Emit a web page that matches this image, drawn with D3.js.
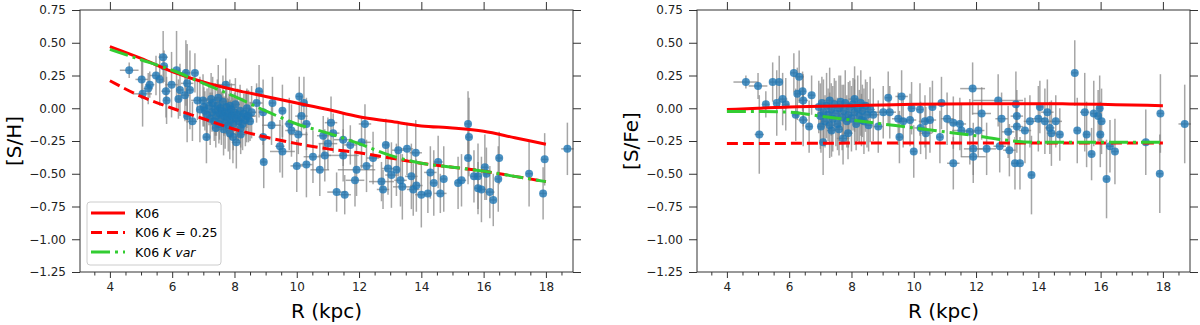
<!DOCTYPE html>
<html>
<head>
<meta charset="utf-8">
<script src="https://cdn.jsdelivr.net/npm/d3@7"></script>
<style>
  body { margin: 0; background: #fff; }
  svg { font-family: "DejaVu Sans", sans-serif; }
</style>
</head>
<body>
<div id="root"></div>
<script>
const w = 1200, h = 325;

// model curves (K06) sampled along R
const modelR = [4, 5, 6, 7, 8, 9, 10, 11, 12, 13, 14, 15, 16, 17, 18];
const k06SH   = [0.47, 0.38, 0.28, 0.20, 0.14, 0.09, 0.04, -0.01, -0.065, -0.10, -0.135, -0.15, -0.175, -0.225, -0.275];
const k025SH  = [0.21, 0.09, 0.00, -0.08, -0.16, -0.22, -0.27, -0.31, -0.34, -0.38, -0.42, -0.45, -0.48, -0.52, -0.56];
const kvarSH  = [0.45, 0.37, 0.29, 0.19, 0.09, -0.02, -0.12, -0.19, -0.27, -0.36, -0.42, -0.45, -0.48, -0.52, -0.56];
const k06SFe  = [-0.01, 0.0, 0.01, 0.015, 0.02, 0.025, 0.03, 0.033, 0.035, 0.035, 0.035, 0.033, 0.03, 0.025, 0.02];
const k025SFe = [-0.27, -0.27, -0.268, -0.267, -0.266, -0.265, -0.265, -0.265, -0.265, -0.265, -0.265, -0.265, -0.265, -0.265, -0.265];
const kvarSFe = [-0.025, -0.025, -0.03, -0.06, -0.09, -0.12, -0.15, -0.18, -0.21, -0.245, -0.26, -0.26, -0.26, -0.26, -0.26];

// stars: [R, value, errR, errValue]
const shPoints = [
  [4.62, 0.29, 0.3, 0.06], [5.02, 0.22, 0.2, 0.15], [5.28, 0.18, 0.15, 0.1], [5.23, 0.15, 0.15, 0.12],
  [5.05, 0.11, 0.3, 0.25], [5.71, 0.39, 0.15, 0.2], [5.74, 0.32, 0.1, 0.12], [5.48, 0.25, 0.2, 0.15],
  [5.6, 0.22, 0.1, 0.2], [5.8, 0.13, 0.15, 0.2], [5.82, 0.06, 0.1, 0.18], [5.98, 0.18, 0.2, 0.25],
  [6.14, 0.29, 0.1, 0.3], [6.44, 0.27, 0.15, 0.25], [6.73, 0.27, 0.1, 0.15], [6.48, 0.19, 0.2, 0.3],
  [6.25, 0.14, 0.1, 0.2], [6.2, 0.07, 0.1, 0.15], [6.41, 0.10, 0.15, 0.2], [6.57, 0.14, 0.1, 0.3],
  [6.81, 0.06, 0.2, 0.15], [6.48, -0.06, 0.1, 0.2], [6.65, -0.10, 0.15, 0.15], [6.89, -0.01, 0.1, 0.25],
  [7.1, -0.22, 0.1, 0.2], [7.02, 0.01, 0.1, 0.15], [6.99, 0.06, 0.15, 0.2], [7.72, 0.18, 0.3, 0.2],
  [7.48, 0.08, 0.15, 0.25], [7.85, -0.19, 0.2, 0.2], [8.06, -0.26, 0.15, 0.2], [8.39, -0.06, 0.3, 0.2],
  [8.79, 0.13, 0.1, 0.2], [8.71, 0.04, 0.2, 0.15], [8.92, -0.03, 0.15, 0.25], [9.22, 0.04, 0.1, 0.2],
  [9.19, -0.13, 0.3, 0.15], [9.46, -0.29, 0.15, 0.2], [9.54, -0.02, 0.1, 0.2], [9.54, -0.33, 0.4, 0.2],
  [9.76, -0.12, 0.15, 0.2], [9.83, -0.17, 0.2, 0.2], [10.08, 0.09, 0.1, 0.15], [10.15, -0.06, 0.2, 0.15],
  [10.23, 0.04, 0.1, 0.2], [10.31, -0.12, 0.15, 0.2], [10.05, -0.20, 0.3, 0.15], [10.0, -0.44, 0.2, 0.2],
  [10.31, -0.43, 0.2, 0.25], [10.52, -0.37, 0.3, 0.2], [10.74, -0.47, 0.3, 0.2], [10.9, -0.36, 0.2, 0.2],
  [8.94, -0.41, 0.1, 0.2], [8.92, -0.22, 0.15, 0.2], [7.95, -0.22, 0.15, 0.2], [8.2, -0.20, 0.2, 0.15],
  [7.05, -0.02, 0.1, 0.15], [7.12, -0.05, 0.15, 0.2], [7.18, 0.02, 0.1, 0.15], [7.22, -0.08, 0.2, 0.2],
  [7.28, -0.03, 0.1, 0.15], [7.3, 0.04, 0.15, 0.2], [7.35, -0.10, 0.1, 0.15], [7.38, -0.01, 0.2, 0.2],
  [7.42, -0.06, 0.1, 0.15], [7.45, 0.02, 0.15, 0.2], [7.5, -0.12, 0.1, 0.15], [7.52, -0.04, 0.2, 0.2],
  [7.55, 0.00, 0.1, 0.15], [7.58, -0.08, 0.15, 0.2], [7.6, -0.02, 0.1, 0.15], [7.63, 0.05, 0.2, 0.2],
  [7.66, -0.06, 0.1, 0.15], [7.7, -0.11, 0.15, 0.2], [7.72, -0.03, 0.1, 0.15], [7.75, 0.01, 0.2, 0.2],
  [7.78, -0.07, 0.1, 0.15], [7.8, -0.13, 0.15, 0.2], [7.82, -0.04, 0.1, 0.15], [7.85, 0.02, 0.2, 0.2],
  [7.88, -0.09, 0.1, 0.15], [7.9, -0.01, 0.15, 0.2], [7.93, -0.06, 0.1, 0.15], [7.96, -0.12, 0.2, 0.2],
  [8.0, -0.03, 0.1, 0.15], [8.03, 0.03, 0.15, 0.2], [8.06, -0.08, 0.1, 0.15], [8.1, -0.05, 0.2, 0.2],
  [8.14, -0.10, 0.1, 0.15], [8.18, -0.02, 0.15, 0.2], [8.22, -0.07, 0.1, 0.15], [8.26, -0.12, 0.2, 0.2],
  [8.3, -0.04, 0.1, 0.15], [8.35, -0.09, 0.15, 0.2], [8.4, 0.00, 0.1, 0.15], [8.45, -0.06, 0.2, 0.2],
  [8.5, -0.10, 0.1, 0.15], [8.55, -0.03, 0.15, 0.2], [7.4, -0.15, 0.1, 0.15], [7.65, -0.16, 0.15, 0.2],
  [8.2, -0.15, 0.1, 0.15], [7.25, 0.07, 0.2, 0.2],
  [10.85, -0.21, 0.2, 0.15], [11.0, -0.27, 0.3, 0.2], [11.1, -0.11, 0.2, 0.2],
  [11.17, -0.19, 0.2, 0.15], [11.49, -0.24, 0.3, 0.2], [11.49, -0.36, 0.5, 0.2], [11.72, -0.28, 0.2, 0.15],
  [12.08, -0.26, 0.3, 0.2], [12.19, -0.12, 0.2, 0.15], [11.28, -0.64, 0.3, 0.15], [11.54, -0.66, 0.2, 0.15],
  [11.87, -0.55, 0.3, 0.2], [11.92, -0.47, 0.6, 0.2], [12.24, -0.44, 0.2, 0.2], [12.45, -0.38, 0.2, 0.2],
  [12.72, -0.56, 0.4, 0.15], [12.77, -0.62, 0.2, 0.15], [12.86, -0.28, 0.1, 0.2], [12.93, -0.46, 0.2, 0.2],
  [13.04, -0.51, 0.2, 0.25], [13.2, -0.47, 0.1, 0.2], [13.26, -0.32, 0.2, 0.2], [13.33, -0.55, 0.2, 0.2],
  [13.39, -0.60, 0.3, 0.25], [13.54, -0.31, 0.2, 0.2], [13.68, -0.52, 0.2, 0.25], [13.74, -0.62, 0.2, 0.2],
  [13.82, -0.34, 0.2, 0.25], [13.84, -0.59, 0.2, 0.2], [14.0, -0.66, 0.2, 0.25], [14.21, -0.65, 0.1, 0.15],
  [14.29, -0.49, 0.2, 0.2], [14.4, -0.57, 0.1, 0.25], [14.54, -0.41, 0.15, 0.2], [14.61, -0.65, 0.2, 0.15],
  [14.72, -0.54, 0.1, 0.25], [15.18, -0.57, 0.1, 0.2], [15.29, -0.55, 0.15, 0.2], [15.5, -0.12, 0.1, 0.25],
  [15.53, -0.22, 0.1, 0.3], [15.5, -0.38, 0.1, 0.2], [15.69, -0.52, 0.1, 0.2], [15.82, -0.52, 0.1, 0.25],
  [15.82, -0.61, 0.1, 0.2], [15.93, -0.62, 0.15, 0.25], [16.04, -0.45, 0.1, 0.25], [16.09, -0.50, 0.1, 0.2],
  [16.2, -0.64, 0.15, 0.2], [16.31, -0.70, 0.1, 0.2], [16.47, -0.54, 0.1, 0.25], [16.5, -0.38, 0.1, 0.2],
  [17.46, -0.50, 0.1, 0.25], [17.96, -0.39, 0.1, 0.2], [17.91, -0.65, 0.1, 0.2], [18.69, -0.31, 0.2, 0.2]
];

const sfePoints = [
  [4.61, 0.20, 0.4, 0.05], [5.0, 0.17, 0.3, 0.1], [5.04, -0.20, 0.15, 0.3], [5.25, 0.03, 0.1, 0.1],
  [5.47, 0.20, 0.1, 0.15], [5.68, 0.20, 0.1, 0.2], [5.6, 0.04, 0.1, 0.25], [5.79, 0.07, 0.15, 0.2],
  [5.89, 0.03, 0.1, 0.2], [6.15, 0.27, 0.1, 0.15], [6.32, 0.24, 0.15, 0.2], [6.26, 0.11, 0.1, 0.2],
  [6.43, 0.13, 0.1, 0.15], [6.45, 0.06, 0.15, 0.2], [6.72, 0.10, 0.1, 0.15], [6.21, -0.05, 0.1, 0.2],
  [6.45, -0.09, 0.15, 0.2], [6.64, -0.14, 0.1, 0.2], [7.09, -0.26, 0.1, 0.25], [7.36, -0.17, 0.15, 0.2],
  [7.73, -0.23, 0.2, 0.2], [7.89, -0.19, 0.15, 0.2], [8.32, -0.09, 0.2, 0.2], [8.7, -0.05, 0.2, 0.2],
  [8.86, -0.14, 0.15, 0.2], [9.18, 0.08, 0.1, 0.2], [9.02, -0.03, 0.3, 0.2], [9.23, -0.03, 0.2, 0.2],
  [9.5, -0.08, 0.2, 0.2], [9.54, -0.22, 0.1, 0.2], [9.61, 0.09, 0.2, 0.2], [9.66, -0.10, 0.15, 0.2],
  [9.88, -0.09, 0.2, 0.2], [9.93, 0.00, 0.1, 0.2], [10.0, -0.33, 0.1, 0.2], [10.2, -0.01, 0.1, 0.2],
  [10.22, -0.15, 0.2, 0.2], [10.36, -0.10, 0.2, 0.2], [10.39, -0.19, 0.2, 0.2], [10.52, -0.09, 0.2, 0.25],
  [10.6, 0.01, 0.1, 0.2], [10.84, -0.22, 0.1, 0.2], [10.89, 0.04, 0.1, 0.2], [11.07, -0.08, 0.2, 0.2],
  [6.95, 0.01, 0.1, 0.2], [7.0, -0.06, 0.15, 0.25], [7.05, 0.04, 0.1, 0.2], [7.1, -0.03, 0.2, 0.25],
  [7.15, -0.10, 0.1, 0.2], [7.2, 0.02, 0.15, 0.25], [7.25, -0.05, 0.1, 0.2], [7.3, 0.06, 0.2, 0.25],
  [7.35, -0.01, 0.1, 0.2], [7.4, -0.08, 0.15, 0.25], [7.45, 0.03, 0.1, 0.2], [7.5, -0.04, 0.2, 0.25],
  [7.55, -0.12, 0.1, 0.2], [7.6, 0.00, 0.15, 0.25], [7.65, 0.05, 0.1, 0.2], [7.7, -0.07, 0.2, 0.25],
  [7.75, -0.02, 0.1, 0.2], [7.8, 0.04, 0.15, 0.25], [7.85, -0.10, 0.1, 0.2], [7.9, -0.05, 0.2, 0.25],
  [7.95, 0.01, 0.1, 0.2], [8.0, -0.08, 0.15, 0.25], [8.05, 0.03, 0.1, 0.2], [8.1, -0.03, 0.2, 0.25],
  [8.15, -0.12, 0.1, 0.2], [8.2, 0.00, 0.15, 0.25], [8.25, -0.06, 0.1, 0.2], [8.3, 0.04, 0.2, 0.25],
  [8.35, -0.02, 0.1, 0.2], [8.4, -0.10, 0.15, 0.25], [8.45, 0.02, 0.1, 0.2], [8.5, -0.05, 0.2, 0.25],
  [8.55, -0.13, 0.1, 0.2], [7.3, -0.13, 0.15, 0.25], [7.6, -0.16, 0.1, 0.2], [8.1, 0.07, 0.2, 0.25],
  [7.02, -0.14, 0.1, 0.2], [8.6, -0.01, 0.15, 0.25],
  [11.27, -0.11, 0.2, 0.2], [11.27, -0.42, 0.2, 0.2], [11.48, -0.12, 0.2, 0.2], [11.53, -0.17, 0.3, 0.2],
  [11.89, 0.15, 0.4, 0.2], [11.8, -0.18, 0.2, 0.25], [11.91, -0.31, 0.3, 0.2], [11.91, -0.37, 0.4, 0.2],
  [12.07, -0.17, 0.2, 0.2], [12.18, -0.04, 0.3, 0.2], [12.34, -0.31, 0.3, 0.2], [12.71, 0.06, 0.8, 0.2],
  [12.82, -0.08, 0.2, 0.2], [12.76, -0.29, 0.2, 0.2], [13.03, -0.18, 0.2, 0.2], [13.07, -0.32, 0.2, 0.2],
  [13.28, 0.03, 0.2, 0.25], [13.31, -0.06, 0.2, 0.2], [13.31, -0.14, 0.2, 0.2], [13.25, -0.42, 0.1, 0.2],
  [13.41, -0.42, 0.1, 0.2], [13.57, -0.17, 0.2, 0.25], [13.73, -0.10, 0.2, 0.2], [13.78, -0.51, 0.1, 0.3],
  [14.0, -0.08, 0.2, 0.25], [14.05, 0.01, 0.1, 0.2], [14.21, -0.10, 0.2, 0.25], [14.29, -0.03, 0.2, 0.25],
  [14.37, -0.15, 0.15, 0.2], [14.42, -0.19, 0.15, 0.25], [14.56, -0.10, 0.2, 0.2], [14.69, -0.20, 0.1, 0.2],
  [15.17, 0.27, 0.1, 0.25], [15.25, -0.17, 0.1, 0.25], [15.49, -0.03, 0.15, 0.3], [15.55, -0.20, 0.1, 0.25],
  [15.71, -0.35, 0.1, 0.2], [15.78, -0.04, 0.1, 0.25], [15.92, -0.06, 0.1, 0.2], [15.97, 0.00, 0.1, 0.25],
  [16.03, -0.10, 0.1, 0.25], [15.99, -0.20, 0.1, 0.25], [16.19, -0.54, 0.1, 0.3], [16.3, -0.29, 0.1, 0.2],
  [16.46, -0.33, 0.1, 0.25], [17.45, -0.26, 0.1, 0.25], [17.92, -0.04, 0.1, 0.3], [17.9, -0.50, 0.1, 0.3],
  [18.7, -0.12, 0.2, 0.3]
];

const xTicks = [4, 6, 8, 10, 12, 14, 16, 18];
const xMinorTicks = d3.range(3.5, 18.51, 0.5).filter(v => v % 2 !== 0);
const yTicks = [0.75, 0.5, 0.25, 0, -0.25, -0.5, -0.75, -1.0, -1.25];

const models = [
  { name: "K06", color: "red", dash: null },
  { name: "K06 K=0.25", color: "red", dash: "11,5" },
  { name: "K06 K var", color: "limegreen", dash: "19,5,3,5" }
];

const fmtY = d => d3.format(".2f")(d).replace("-", "\u2212");

const svg = d3.select("#root").append("svg")
  .attr("width", w).attr("height", h);

function panel(left, yLabel, points, curves, withLegend) {
  const top = 10, bottom = 272, right = left + 493;
  const x = d3.scaleLinear().domain([3.04, 18.87]).range([left, right]);
  const y = d3.scaleLinear().domain([-1.25, 0.75]).range([bottom, top]);
  const g = svg.append("g");

  // error bars
  const eb = g.append("g").attr("stroke", "gray").attr("stroke-opacity", 0.7).attr("stroke-width", 1.5);
  eb.selectAll("line.ey").data(points).enter().append("line")
    .attr("x1", d => x(d[0])).attr("x2", d => x(d[0]))
    .attr("y1", d => y(d[1] - d[3])).attr("y2", d => y(d[1] + d[3]));
  eb.selectAll("line.ex").data(points).enter().append("line")
    .attr("x1", d => x(d[0] - d[2])).attr("x2", d => x(d[0] + d[2]))
    .attr("y1", d => y(d[1])).attr("y2", d => y(d[1]));

  g.append("g").selectAll("circle").data(points).enter().append("circle")
    .attr("cx", d => x(d[0])).attr("cy", d => y(d[1]))
    .attr("r", 4)
    .attr("fill", "#1f77b4").attr("fill-opacity", 0.8);

  // model curves
  const line = d3.line().x((d, i) => x(modelR[i])).y(d => y(d)).curve(d3.curveMonotoneX);
  curves.forEach((c, i) => {
    g.append("path").datum(c)
      .attr("d", line)
      .attr("fill", "none")
      .attr("stroke", models[i].color)
      .attr("stroke-width", 3)
      .attr("stroke-dasharray", models[i].dash);
  });

  // axes
  const xAxis = g.append("g").attr("transform", "translate(0," + bottom + ")")
    .call(d3.axisBottom(x).tickValues(xTicks).tickSize(6).tickPadding(4).tickFormat(d => d));
  g.append("g").attr("transform", "translate(0," + bottom + ")")
    .call(d3.axisBottom(x).tickValues(xMinorTicks).tickSize(3.5).tickFormat(""));
  g.append("g").attr("transform", "translate(0," + top + ")")
    .call(d3.axisTop(x).tickValues(xTicks).tickSize(8).tickFormat(""));
  g.append("g").attr("transform", "translate(" + left + ",0)")
    .call(d3.axisLeft(y).tickValues(yTicks).tickSize(8).tickPadding(6).tickFormat(fmtY));
  g.append("g").attr("transform", "translate(" + right + ",0)")
    .call(d3.axisRight(y).tickValues(yTicks).tickSize(8).tickFormat(""));
  g.selectAll(".domain").remove();
  g.selectAll(".tick line").attr("stroke", "#333");
  g.selectAll(".tick text").attr("font-size", 12).attr("font-family", "DejaVu Sans").attr("fill", "#222");

  g.append("rect")
    .attr("x", left).attr("y", top)
    .attr("width", right - left).attr("height", bottom - top)
    .attr("fill", "none").attr("stroke", "#333").attr("stroke-width", 1);

  g.append("text")
    .attr("x", (left + right) / 2).attr("y", 318)
    .attr("text-anchor", "middle").attr("font-size", 20)
    .text("R (kpc)");
  g.append("text")
    .attr("transform", "translate(" + (left - 59) + "," + ((top + bottom) / 2) + ") rotate(-90)")
    .attr("text-anchor", "middle").attr("font-size", 20)
    .text(yLabel);

  if (withLegend) {
    const lg = g.append("g");
    lg.append("rect")
      .attr("x", left + 7).attr("y", 202).attr("width", 134).attr("height", 63).attr("rx", 3)
      .attr("fill", "#fff").attr("fill-opacity", 0.8).attr("stroke", "#ccc");
    models.forEach((m, i) => {
      const yy = 213 + i * 19.5;
      lg.append("line")
        .attr("x1", left + 11).attr("x2", left + 45).attr("y1", yy).attr("y2", yy)
        .attr("stroke", m.color).attr("stroke-width", 3).attr("stroke-dasharray", m.dash);
      const t = lg.append("text").attr("x", left + 55).attr("y", yy + 4.5).attr("font-size", 12.5);
      t.append("tspan").text("K06");
      if (i === 1) {
        t.append("tspan").attr("font-style", "italic").text(" K");
        t.append("tspan").text(" = 0.25");
      } else if (i === 2) {
        t.append("tspan").attr("font-style", "italic").text(" K var");
      }
    });
  }
}

panel(80, "[S/H]", shPoints, [k06SH, k025SH, kvarSH], true);
panel(697, "[S/Fe]", sfePoints, [k06SFe, k025SFe, kvarSFe], false);
</script>
</body>
</html>
